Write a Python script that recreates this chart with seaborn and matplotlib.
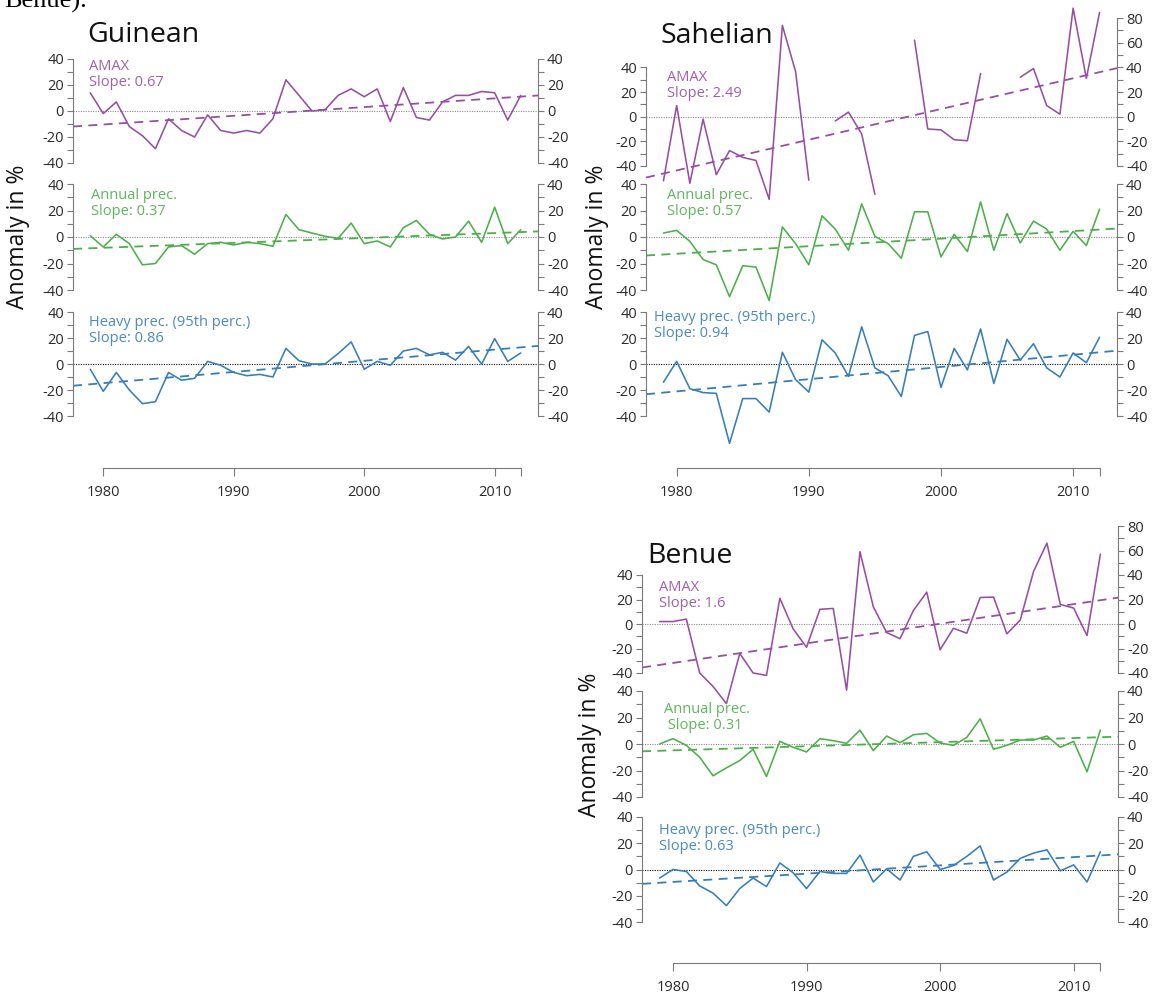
import numpy as np
import pandas as pd
import matplotlib
matplotlib.use("Agg")
import matplotlib.pyplot as plt
import seaborn as sns

sns.set_theme(style="white")
plt.rcParams["font.family"] = ["Open Sans", "DejaVu Sans"]
plt.rcParams["axes.unicode_minus"] = False

# ---- data (anomalies in %) ----
years = list(range(1979, 2013))
nan = np.nan

guinean_amax = [14, -2, 7, -12, -19, -29, -6, -15, -20, -3, -15, -17, -15, -17, -6, 24, 12,
                0, 1, 12, 17, 11, 17, -8, 18, -5, -7, 7, 12, 12, 15, 14, -7, 12]
guinean_annual = [1, -7.5, 2, -5, -21, -20, -7.5, -6.5, -13, -5, -4, -6, -4, -5, -7, 17, 5.5,
                  3, 0.5, -1, 10.5, -5, -3, -7.5, 7, 12.5, 2, -1.5, 0, 12, -4, 22.5, -5, 5.5]
guinean_heavy = [-4, -21, -6.5, -20, -30.5, -29, -6.5, -12.5, -11, 2, -1, -6.5, -9, -8, -10, 12, 2.5,
                 0, 0, 8, 17, -4, 2, -1, 10, 12, 7, 9, 3, 13.5, 0, 19.5, 2, 8.5]

sahel_amax = [-52, 9, -54, -2, -47, -27.5, -33, -35.5, -67, 74, 36.5, -51.5, nan, -3.5, 3.7, -14, -63,
              nan, nan, 62, -10, -10.7, -18.7, -19.5, 35, nan, nan, 32, 39, 9, 2, 88, 31, 84.5]
sahel_annual = [3, 5, -3.3, -17, -21, -45, -21.7, -22.7, -48, 7.6, -5, -21, 16, 6, -10, 25, 0.5,
                -5, -16, 19, 19, -15, 2, -11, 26.5, -10, 17.7, -4.5, 12, 6, -10, 4.3, -6.5, 21]
sahel_heavy = [-14, 2, -19, -22, -22.6, -61, -26.6, -26.6, -37, 9, -12, -21.6, 18.6, 8.5, -9.5, 28.6, -3,
               -9, -25, 22, 25, -18, 12, -4.5, 27, -15, 19, 3, 15.6, -3, -10, 8.5, 1, 20.6]

benue_amax = [2, 2, 4, -40, -51, -65, -24, -40, -42, 21, -4, -19, 12, 12.7, -54, 59, 14,
              -7, -12, 11, 26, -21, -3.5, -7.5, 21.6, 22, -8, 3.2, 43, 66, 16, 13, -9.5, 57]
benue_annual = [0, 4, -1, -10, -24, -18, -12.5, -4, -24.5, 2, -2.5, -6, 4, 2.5, 0.5, 10.5, -5,
                6, 1, 7, 8, 0.7, -1, 5, 19, -4, -1, 3, 3, 6, -2.5, 2, -21, 10.5]
benue_heavy = [-6.5, 0, -1.5, -12.5, -18, -27.5, -14.5, -6.5, -13, 5, -2.5, -14.5, -1.5, -3, -3, 11, -9.5,
               0.5, -8, 10, 13.5, 0, 3, 10, 18, -8, -2, 8.5, 12.5, 15, -1, 3.5, -9.5, 13.5]

# trend: slope (%/yr, as labelled) and trend value at mid-period 1995.5
guinean_trend = [(0.67, 0.0), (0.37, -2.4), (0.86, -1.4)]
sahel_trend = [(2.49, -5.0), (0.57, -3.8), (0.94, -6.5)]
benue_trend = [(1.6, -7.0), (0.31, 0.0), (0.63, 0.3)]

COLORS = ["#984EA3", "#4DAF4A", "#377EB8"]
ZERO = ["#8c8c8c", "#8c8c8c", "#111111"]
AXC = "#7a7a7a"
TXT = "#2b2b2b"
TICK_FS = 10.5

W, H = 1162, 1001
fig = plt.figure(figsize=(W / 100, H / 100), dpi=100, facecolor="white")


def px_axes(x0, x1, ytop, ybot):
    return fig.add_axes([x0 / W, 1 - ybot / H, (x1 - x0) / W, (ybot - ytop) / H])


XLIM = (1977.68, 2013.32)

panels = [
    dict(name="Guinean", series=[guinean_amax, guinean_annual, guinean_heavy], trend=guinean_trend,
         x0=73, x1=538, rows=[(59, 163, 40), (184, 290, 40), (312, 416, 40)], xaxis_y=468,
         title=(87, 42), ylab=(18, 237),
         notes=[(89, 59, "AMAX\nSlope: 0.67"), (91, 188, "Annual prec.\nSlope: 0.37"),
                (89, 315, "Heavy prec. (95th perc.)\nSlope: 0.86")]),
    dict(name="Sahelian", series=[sahel_amax, sahel_annual, sahel_heavy], trend=sahel_trend,
         x0=646, x1=1117, rows=[(18, 166, 80), (184, 290, 40), (312, 416, 40)], xaxis_y=468,
         title=(661, 43), ylab=(597, 237),
         notes=[(667, 70, "AMAX\nSlope: 2.49"), (667, 188, "Annual prec.\nSlope: 0.57"),
                (654, 310, "Heavy prec. (95th perc.)\nSlope: 0.94")]),
    dict(name="Benue", series=[benue_amax, benue_annual, benue_heavy], trend=benue_trend,
         x0=642, x1=1118, rows=[(526, 673, 80), (691, 797, 40), (817, 922, 40)], xaxis_y=963,
         title=(647, 563), ylab=(590, 745),
         notes=[(659, 580, "AMAX\nSlope: 1.6"), (664, 702, "Annual prec.\n Slope: 0.31"),
                (659, 823, "Heavy prec. (95th perc.)\nSlope: 0.63")]),
]


def style_y(ax, side, top):
    major = list(range(-40, top + 1, 20))
    minor = list(range(-30, top, 20))
    ax.set_yticks(major)
    ax.set_yticks(minor, minor=True)
    ax.set_yticklabels([str(v) for v in major])
    ax.tick_params(axis="y", which="both", length=4.5, width=0.8, color=AXC,
                   direction="out", labelsize=TICK_FS, labelcolor=TXT, pad=2,
                   left=(side == "left"), right=(side == "right"),
                   labelleft=(side == "left"), labelright=(side == "right"))
    ax.spines[side].set_bounds(-40, top)
    ax.spines[side].set_color(AXC)
    ax.spines[side].set_linewidth(0.8)


for p in panels:
    for i, (ytop, ybot, top) in enumerate(p["rows"]):
        ax = px_axes(p["x0"], p["x1"], ytop, ybot)
        ax.patch.set_visible(False)
        ax.set_xlim(*XLIM)
        ax.set_ylim(-40, top)
        for s in ["top", "bottom", "right"]:
            ax.spines[s].set_visible(False)
        ax.set_xticks([])
        style_y(ax, "left", 40)

        ax.axhline(0, color=ZERO[i], lw=0.8, ls=(0, (1, 1.2)), zorder=1)

        vals = np.array(p["series"][i], dtype=float)
        seg = np.cumsum(np.isnan(vals))
        df = pd.DataFrame({"year": years, "value": vals, "seg": seg}).dropna()
        sns.lineplot(data=df, x="year", y="value", units="seg", estimator=None,
                     color=COLORS[i], lw=1.15, ax=ax, legend=False, zorder=3)
        slope, mid = p["trend"][i]
        xs = np.array(XLIM)
        ax.plot(xs, slope * (xs - 1995.5) + mid, color=COLORS[i], lw=1.3,
                ls=(0, (5, 3.5)), zorder=2)
        for ln in ax.lines:
            ln.set_clip_on(False)
        ax.set_xlabel("")
        ax.set_ylabel("")

        # right axis
        ax2 = ax.twinx()
        ax2.patch.set_visible(False)
        ax2.set_ylim(-40, top)
        for s in ["top", "bottom", "left"]:
            ax2.spines[s].set_visible(False)
        style_y(ax2, "right", top)

        nx, ny, txt = p["notes"][i]
        fig.text(nx / W, 1 - ny / H, txt, color=COLORS[i], fontsize=10.5, va="top", ha="left",
                 linespacing=1.1, alpha=0.9)

    # x axis under the panel
    axx = px_axes(p["x0"], p["x1"], p["xaxis_y"] - 5, p["xaxis_y"])
    axx.patch.set_visible(False)
    axx.set_xlim(*XLIM)
    for s in ["top", "left", "right"]:
        axx.spines[s].set_visible(False)
    axx.spines["bottom"].set_bounds(1980, 2012)
    axx.spines["bottom"].set_color(AXC)
    axx.spines["bottom"].set_linewidth(0.8)
    axx.set_yticks([])
    axx.set_xticks([1980, 1990, 2000, 2010, 2012])
    axx.set_xticklabels(["1980", "1990", "2000", "2010", ""])
    axx.tick_params(axis="x", bottom=True, length=6, width=0.8, color=AXC, direction="out",
                    labelsize=TICK_FS, labelcolor=TXT, pad=6)

    tx, ty = p["title"]
    fig.text(tx / W, 1 - ty / H, p["name"], fontsize=20.5, color="#111111", va="baseline", ha="left")
    lx, ly = p["ylab"]
    fig.text(lx / W, 1 - ly / H, "Anomaly in %", rotation=90, fontsize=16.5, color="#111111",
             va="center", ha="center")

fig.text(4 / W, 1 - 8 / H, "Benue).", family=["Liberation Serif", "DejaVu Serif"],
         fontsize=19, color="black", va="baseline", ha="left")

fig.savefig("out.png", dpi=100, facecolor="white")
